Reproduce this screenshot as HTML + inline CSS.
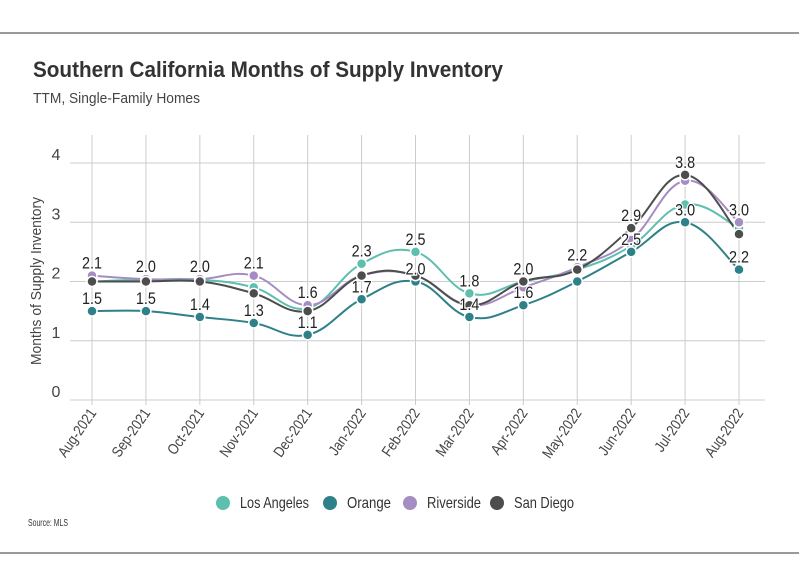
<!DOCTYPE html>
<html><head><meta charset="utf-8"><style>
body{margin:0;background:#fff;width:799px;height:575px;overflow:hidden}
svg text{font-family:"Liberation Sans",sans-serif}
</style></head><body>
<svg id="c" width="799" height="575" style="position:absolute;left:0;top:0">
<line x1="0" y1="33" x2="799" y2="33" stroke="#333" stroke-width="1"/>
<line x1="0" y1="553" x2="799" y2="553" stroke="#333" stroke-width="1"/>
<text x="33" y="77" font-size="22" font-weight="bold" fill="#333" textLength="470" lengthAdjust="spacingAndGlyphs">Southern California Months of Supply Inventory</text>
<text x="33" y="103" font-size="15" fill="#444" textLength="167" lengthAdjust="spacingAndGlyphs">TTM, Single-Family Homes</text>
<text transform="translate(41,365) rotate(-90)" font-size="15" fill="#444" textLength="168" lengthAdjust="spacingAndGlyphs">Months of Supply Inventory</text>
<text x="28" y="526" font-size="10" fill="#333" textLength="40" lengthAdjust="spacingAndGlyphs">Source:  MLS</text>
<g id="grid"></g><g id="lines"></g><g id="labels"></g><g id="legend"></g>
</svg>
<script>
const categories=["Aug-2021","Sep-2021","Oct-2021","Nov-2021","Dec-2021","Jan-2022","Feb-2022","Mar-2022","Apr-2022","May-2022","Jun-2022","Jul-2022","Aug-2022"];
const seriesNames=["Los Angeles","Orange","Riverside","San Diego"];
const losAngeles=[2.0,2.03,2.03,1.9,1.55,2.3,2.5,1.8,2.0,2.2,2.6,3.3,2.9];
const orange=[1.5,1.5,1.4,1.3,1.1,1.7,2.0,1.4,1.6,2.0,2.5,3.0,2.2];
const riverside=[2.1,2.04,2.04,2.1,1.6,2.1,2.1,1.6,1.9,2.24,2.7,3.7,3.0];
const sanDiego=[2.0,2.0,2.0,1.8,1.5,2.1,2.1,1.6,2.0,2.2,2.9,3.8,2.8];
const yTicks=[0,1,2,3,4];
const colors=["#5dbfae","#2e8189","#a58cc2","#4d4d4d"];
const series=[losAngeles,orange,riverside,sanDiego];
const NS="http://www.w3.org/2000/svg";
const x=i=>92+i*(739-92)/(categories.length-1);
const y=v=>400-v*(400-163)/4;
function mk(t,a,p){const e=document.createElementNS(NS,t);for(const k in a)e.setAttribute(k,a[k]);p.appendChild(e);return e;}
const grid=document.getElementById('grid');
yTicks.forEach(t=>{
 const l=mk('line',{x1:70,x2:765,y1:y(t),y2:y(t),stroke:'#ccc','stroke-width':1},grid);
 
 
 const tx=mk('text',{x:56,y:y(t)-3,'font-size':16,fill:'#444','text-anchor':'middle'},grid);
 tx.textContent=t;
 
 
});
categories.forEach((c,i)=>{
 const l=mk('line',{x1:x(i),x2:x(i),y1:135,y2:405,stroke:'#ccc','stroke-width':1},grid);
 
 
 const tx=mk('text',{transform:`translate(${x(i)+5},${413}) rotate(-55) scale(0.85,1)`,'font-size':15,fill:'#444','text-anchor':'end'},grid);
 tx.textContent=c;
 
 
});
function path(v){
 const p=v.map((d,i)=>[x(i),y(d)]);let s=`M${p[0][0]},${p[0][1]}`;
 for(let i=0;i<p.length-1;i++){const p0=p[i-1]||p[i],p1=p[i],p2=p[i+1],p3=p[i+2]||p2;const k=0.2;
  s+=` C${p1[0]+(p2[0]-p0[0])*k},${p1[1]+(p2[1]-p0[1])*k} ${p2[0]-(p3[0]-p1[0])*k},${p2[1]-(p3[1]-p1[1])*k} ${p2[0]},${p2[1]}`;}
 return s;}
const lines=document.getElementById('lines');
series.forEach((v,si)=>{
 const pe=mk('path',{d:path(v),fill:'none',stroke:colors[si],'stroke-width':2},lines);
 
 
});
series.forEach((v,si)=>{
 v.forEach((d,i)=>{
  const c=mk('circle',{cx:x(i),cy:y(d),r:5,fill:colors[si],stroke:'#fff','stroke-width':1.5},lines);
  
  
 });
});
const labels=document.getElementById('labels');
categories.forEach((c,i)=>{
 const vals=series.map(s=>s[i]);const mx=Math.max(...vals),mn=Math.min(...vals);
 [mx,mn].forEach((v,k)=>{
  if(k===1&&mx-mn<0.25)return;
  const t=mk('text',{x:x(i)-10,y:y(v)-7,'font-size':17,fill:'#222',textLength:20,lengthAdjust:'spacingAndGlyphs',stroke:'#fff','stroke-width':2.5,'paint-order':'stroke'},labels);
  t.textContent=v.toFixed(1);
  
  
 });
});
const lg=document.getElementById('legend');
const lx=[223,330,410,497];
const lw=[69,44,54,60];
seriesNames.forEach((n,si)=>{
 const g=mk('g',{},lg);
 
 
 mk('circle',{cx:lx[si],cy:503,r:7,fill:colors[si]},g);
 const t=mk('text',{x:lx[si]+17,y:508,'font-size':16,fill:'#333',textLength:lw[si],lengthAdjust:'spacingAndGlyphs'},g);
 t.textContent=n;
});
</script>
</body></html>
